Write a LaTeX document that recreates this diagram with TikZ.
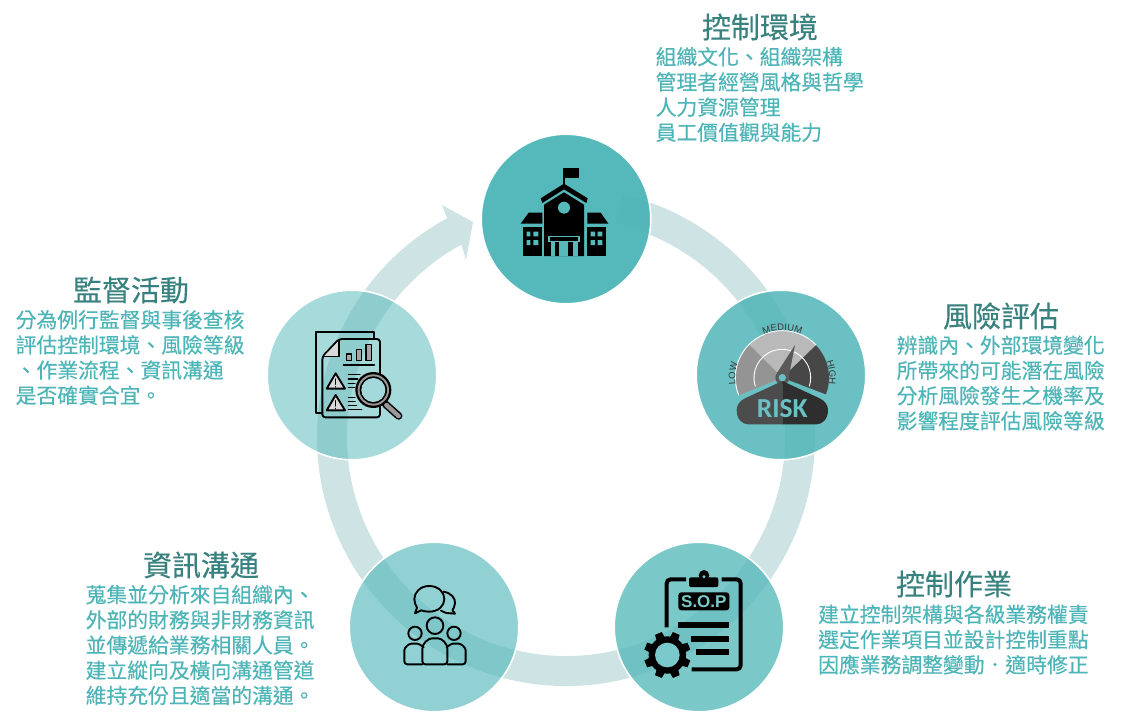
\documentclass[tikz,border=0pt]{standalone}
\usepackage{fontspec}
\usetikzlibrary{decorations.text,calc}
\setmainfont{Noto Sans CJK TC}[FakeBold=0.3]
\newfontfamily\latinfont{Liberation Sans}
\newfontfamily\riskfont{Carlito}
\definecolor{base}{HTML}{50B6B8}
\definecolor{cA}{HTML}{56BABB}
\definecolor{cB}{HTML}{6AC1C5}
\definecolor{cC}{HTML}{7ACACB}
\definecolor{cD}{HTML}{90D1D4}
\definecolor{cE}{HTML}{A4D9DC}
\definecolor{ringc}{HTML}{CDE3E4}
\definecolor{titlec}{HTML}{37817F}
\definecolor{bodyc}{HTML}{4DB5B7}
\definecolor{icongray}{HTML}{B9B9B9}
\tikzset{
  disc/.style={circle,minimum size=169.6pt,inner sep=0pt,draw=none,fill=base},
  rim/.style={draw=white,line width=1.6pt},
  heading/.style={inner sep=0pt,text=titlec,font=\fontsize{29}{31}\selectfont},
  para/.style={inner sep=0pt,anchor=west,align=left,text=bodyc,font=\fontsize{20.8}{25.2}\selectfont},
  zoomed/.style={x=0.33333pt,y=-0.33333pt},
  ln/.style={draw=black,line width=1.9pt,line cap=round,line join=round},
  thin ln/.style={draw=black,line width=1.3pt,line cap=round,line join=round},
  gaugetext/.style={decorate,decoration={text along path,text align=center,text={|\latinfont\fontsize{9.4}{10}\selectfont\color{black!78}|#1}}},
}
\begin{document}
\begin{tikzpicture}[x=1pt,y=1pt]
\useasboundingbox (0,-721) rectangle (1121,0);
\fill[white] (0,-721) rectangle (1121,0);
% ring arrow
\fill[ringc] ($(566,-437)+(77:249)$) arc[start angle=77,end angle=-241.5,radius=249]
  -- (442,-205) -- (473,-222) -- (466,-260) -- ($(566,-437)+(118.5:219)$)
  arc[start angle=-241.5,end angle=77,radius=219] -- cycle;
% discs
\node[disc,fill opacity=0.97] (ctrlenv) at (566,-219) {};
\node[disc,fill opacity=0.85] (risk) at (781,-375) {};
\node[disc,fill opacity=0.75] (sop) at (699,-627) {};
\node[disc,fill opacity=0.62] (comm) at (434,-627) {};
\node[disc,fill opacity=0.5] (monitor) at (352,-375) {};
\foreach \n in {ctrlenv,risk,sop,comm,monitor}{
  \draw[rim] (\n.center) circle[radius=84.8];
}
% texts
\node[heading] (t1) at (760,-27) {控制環境};
\node[para] (b1) at (655.5,-94.5) {組織文化、組織架構\\管理者經營風格與哲學\\人力資源管理\\員工價值觀與能力};
\node[heading] (t2) at (1001,-316) {風險評估};
\node[para] (b2) at (896.5,-383) {辨識內、外部環境變化\\所帶來的可能潛在風險\\分析風險發生之機率及\\影響程度評估風險等級};
\node[heading] (t3) at (954,-584) {控制作業};
\node[para] (b3) at (818,-639.5) {建立控制架構與各級業務權責\\選定作業項目並設計控制重點\\因應業務調整變動．適時修正};
\node[heading] (t4) at (201,-565) {資訊溝通};
\node[para] (b4) at (85.5,-645) {蒐集並分析來自組織內、\\外部的財務與非財務資訊\\並傳遞給業務相關人員。\\建立縱向及橫向溝通管道\\維持充份且適當的溝通。};
\node[heading] (t5) at (131,-290) {監督活動};
\node[para] (b5) at (15.5,-357.5) {分為例行監督與事後查核\\評估控制環境、風險等級\\、作業流程、資訊溝通\\是否確實合宜。};
% school icon
\begin{scope}[shift={(480,-130)},zoomed]
  \fill (248,115) rectangle (254,170);
  \fill (256,114) rectangle (297,145);
  \fill (182,205) -- (252,161) -- (323,205) -- (319,219) -- (252,178) -- (187,219) -- cycle;
  \fill (192,224) -- (252,187) -- (312,224) -- (312,378) -- (192,378) -- cycle;
  \fill[cA] (252,233) circle[radius=18];
  \fill[cA] (204,317) rectangle (299,337);
  \fill (209,322) rectangle (294,332);
  \fill[cA] (212,337) rectangle (224,378);
  \fill[cA] (238,337) rectangle (265,378);
  \fill[cA] (280,337) rectangle (293,378);
  \fill (122,281) -- (146,248) -- (187,248) -- (187,281) -- cycle;
  \fill (130,292) rectangle (187,378);
  \fill (322,248) -- (362,248) -- (385,281) -- (322,281) -- cycle;
  \fill (322,292) rectangle (378,378);
  \fill[cA] (140,305) rectangle (151,319) (160,305) rectangle (175,319) (140,330) rectangle (151,345) (160,330) rectangle (175,345);
  \fill[cA] (332,305) rectangle (345,319) (353,305) rectangle (367,319) (332,330) rectangle (345,345) (353,330) rectangle (367,345);
\end{scope}
% gauge icon
\begin{scope}[shift={(782.33,-377.67)},x=0.33333pt,y=0.33333pt]
  \fill[icongray] (0,0) -- (202:140) arc[start angle=202,end angle=44,radius=140] -- cycle;
  \fill[black!42] (0,0) -- (202:140) arc[start angle=202,end angle=135,radius=140] -- cycle;
  \fill[black!72] (0,0) -- (44:140) arc[start angle=44,end angle=-21,radius=140] -- cycle;
  \draw[white,line width=0.9pt] (202:141) arc[start angle=202,end angle=44,radius=141];
  \draw[white,line width=0.9pt] (198:85) arc[start angle=198,end angle=-18,radius=85];
  \fill[black!65] (38,98) -- (18,-4) -- (-16,14) -- cycle;
  \fill[black!65] (0,0) circle[radius=21];
  \fill[cB] (0,0) circle[radius=11];
  \fill[black!70] (0,-10) -- (-112,-62) .. controls (-130,-70) and (-137,-85) .. (-137,-97) .. controls (-137,-125) and (-120,-140) .. (-102,-140) -- (0,-140) -- cycle;
  \fill[black!82] (0,-10) -- (112,-62) .. controls (130,-70) and (137,-85) .. (137,-97) .. controls (137,-125) and (120,-140) .. (102,-140) -- (0,-140) -- cycle;
  \node[inner sep=0pt,text=cB,font=\riskfont\bfseries\fontsize{27.5}{28}\selectfont] (risklabel) at (0,-92) {RISK};
  \path[gaugetext=MEDIUM] (130:141) arc[start angle=130,end angle=50,radius=141];
  \path[gaugetext=LOW] (205:141) arc[start angle=205,end angle=145,radius=141];
  \path[gaugetext=HIGH] (36:141) arc[start angle=36,end angle=-24,radius=141];
\end{scope}
% SOP icon
\begin{scope}[shift={(610,-540)},zoomed]
  \draw[line width=4pt,rounded corners=4pt] (170,262) -- (170,118) -- (228,118);
  \draw[line width=4pt,rounded corners=4pt] (335,118) -- (392,118) -- (392,388) -- (245,388);
  \fill (282,106) circle[radius=16];
  \fill[rounded corners=2pt] (237,112) rectangle (325,141);
  \fill[cC] (282,110) circle[radius=5];
  \fill[rounded corners=3pt] (205,157) rectangle (358,211);
  \node[inner sep=0pt,text=cC,font=\latinfont\bfseries\fontsize{17}{17}\selectfont] (soplabel) at (281.5,184) {S.O.P};
  \fill (205,245) rectangle (358,264);
  \fill (243,287) rectangle (358,305);
  \fill (258,327) rectangle (358,345);
  \begin{scope}[shift={(172,345)}]
    \fill (0,0) circle[radius=56];
    \foreach \a in {0,45,...,315}{
      \fill[rotate=\a+22.5] (-14,45) -- (-11,70) -- (11,70) -- (14,45) -- cycle;
    }
    \fill[cC] (0,0) circle[radius=37];
  \end{scope}
\end{scope}
% communication icon
\begin{scope}[shift={(345,-540)},zoomed]
  \begin{scope}[ln]
    \draw (295,155) .. controls (318,158) and (332,175) .. (330,190) .. controls (329,200) and (325,207) .. (322,210) -- (330,221) -- (305,219) .. controls (300,218) and (295,216) .. (288,212);
    \draw (252,138) .. controls (282,138) and (298,158) .. (298,177) .. controls (298,198) and (280,215) .. (252,215) .. controls (242,215) and (235,213) .. (228,211) -- (210,220) -- (216,203) .. controls (211,195) and (208,187) .. (208,177) .. controls (208,158) and (225,138) .. (252,138) -- cycle;
    \draw (270,257) circle[radius=25];
    \draw (210,280) circle[radius=20];
    \draw (327,280) circle[radius=20];
    \draw[rounded corners=3pt] (232,373) -- (232,335) .. controls (232,310) and (250,295) .. (270,295) .. controls (290,295) and (307,310) .. (307,335) -- (307,373) -- cycle;
    \draw[rounded corners=3pt] (232,373) -- (178,373) -- (178,340) .. controls (178,322) and (192,311) .. (208,311) .. controls (220,311) and (230,316) .. (236,322);
    \draw[rounded corners=3pt] (307,373) -- (362,373) -- (362,340) .. controls (362,322) and (348,311) .. (332,311) .. controls (322,311) and (312,315) .. (305,322);
  \end{scope}
\end{scope}
% monitoring icon
\begin{scope}[shift={(265,-195)},zoomed]
  \draw[ln] (172,655) -- (152,655) -- (152,412) -- (328,412) -- (328,432);
  \draw[ln,rounded corners=3pt] (172,485) -- (222,432) -- (345,432) -- (345,667) -- (172,667) -- cycle;
  \fill[black!15] (176,485) -- (222,437) -- (222,485) -- cycle;
  \draw[thin ln] (176,485) -- (222,485) -- (222,437);
  \draw[thin ln,fill=black!35] (245,477) rectangle (260,497) (274,463) rectangle (290,497) (303,449) rectangle (320,497);
  \draw[thin ln] (235,510) -- (328,510);
  \draw[ln,fill=black!15] (212,535) -- (240,581) -- (185,581) -- cycle;
  \draw[ln,fill=black!15] (212,600) -- (240,646) -- (185,646) -- cycle;
  \draw[thin ln] (212,552) -- (212,568) (212,575) -- (212,576) (212,617) -- (212,633) (212,640) -- (212,641);
  \draw[thin ln] (250,538) -- (285,538) (250,552) -- (278,552) (250,565) -- (270,565) (250,578) -- (270,578);
  \draw[thin ln] (250,608) -- (270,608) (250,620) -- (270,620) (250,632) -- (275,632) (250,643) -- (290,643);
  \draw[black,line width=7.5pt,line cap=round] (362,628) -- (401,663);
  \draw[black!40,line width=4.5pt,line cap=round] (364,630) -- (401,663);
  \fill[black] (325,585) circle[radius=54];
  \fill[black!40] (325,585) circle[radius=47];
  \fill[black] (325,585) circle[radius=41];
  \fill[cE] (325,585) circle[radius=36];
\end{scope}
\end{tikzpicture}
\end{document}
